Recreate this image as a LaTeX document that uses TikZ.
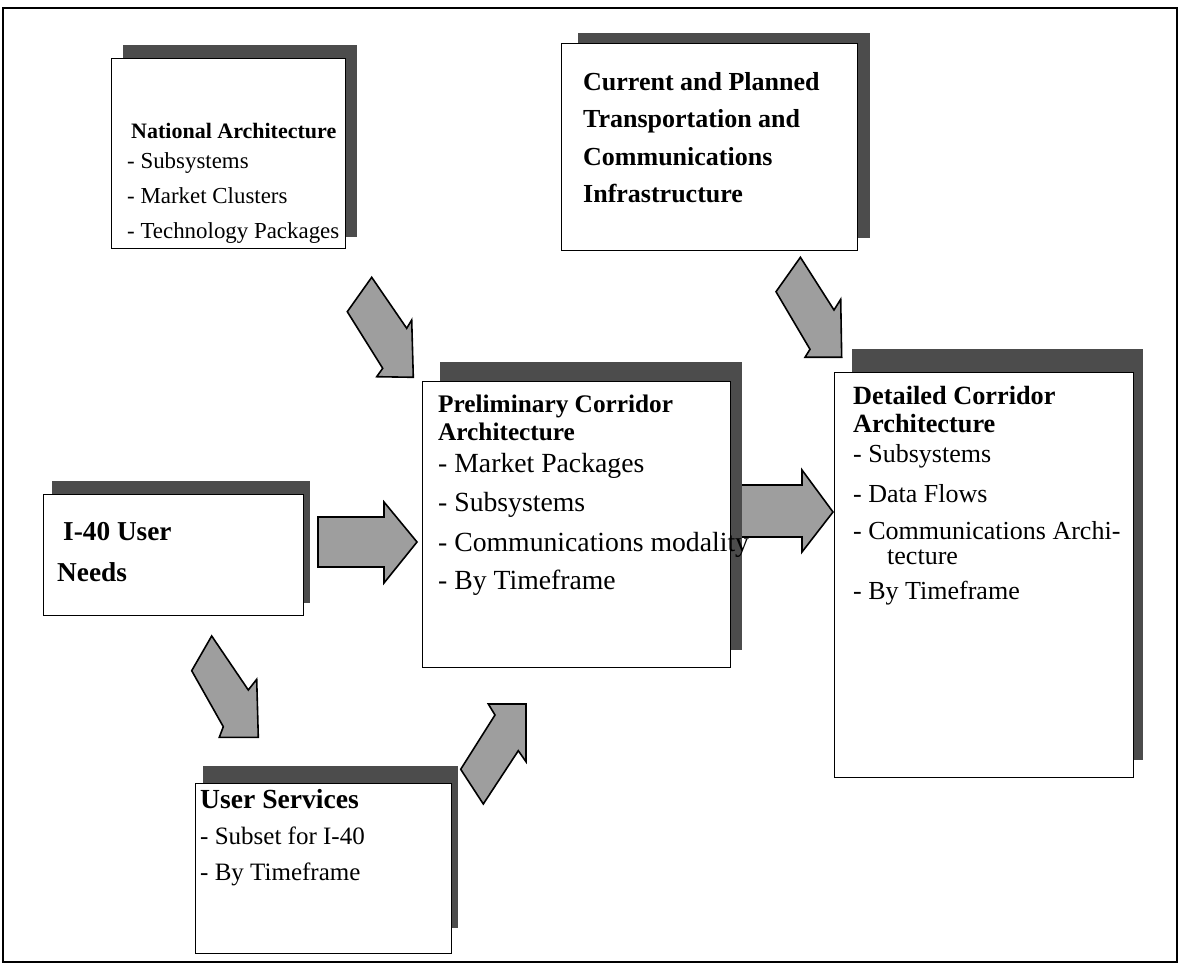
\documentclass[tikz,border=0pt]{standalone}
\usepackage{fontspec}
\setmainfont{Liberation Serif}
\begin{document}
\begin{tikzpicture}[x=1pt,y=-1pt,
  shadebox/.style={fill=black!70},
  card/.style={draw=black, line width=1.2pt, fill=white, inner sep=0pt, anchor=north west},
  blockarrow/.style={draw=black, line width=1.6pt, fill=black!38, line join=miter},
  head/.style={anchor=base west, inner sep=0pt, font=\fontsize{#1}{#1}\selectfont\bfseries},
  item/.style={anchor=base west, inner sep=0pt, font=\fontsize{#1}{#1}\selectfont}]
\useasboundingbox (0,0) rectangle (1179,968);
\draw[line width=1.2pt] (3,8) rectangle (1177,962);

% block arrows
\draw[blockarrow] (371.7,277.3) -- (406.7,328.3) -- (411.7,320) -- (413.3,377.3) -- (376.7,376.7) -- (382.7,368.3) -- (347.3,311.7) -- cycle;
\draw[blockarrow] (800.4,257.3) -- (834,310) -- (840.7,299.3) -- (841.7,357.3) -- (805,357.3) -- (810,349.3) -- (776,291.7) -- cycle;
\draw[blockarrow] (211.7,636) -- (248.3,690) -- (256.7,679.3) -- (258.3,737.3) -- (219.3,737.3) -- (223.3,726.7) -- (191.7,670.7) -- cycle;
\draw[blockarrow] (526,704) -- (526,761.7) -- (518.3,750.7) -- (483.3,804) -- (460.7,769.3) -- (495,715) -- (488.3,704) -- cycle;
\draw[blockarrow] (318,517) -- (384,517) -- (384,502) -- (417,542) -- (384,583) -- (384,567) -- (318,567) -- cycle;
\draw[blockarrow] (735,485) -- (802,485) -- (802,470) -- (833,512) -- (802,552) -- (802,537) -- (735,537) -- cycle;

% shadows
\fill[shadebox] (123,45) rectangle (357,237);
\fill[shadebox] (578,33) rectangle (870,238);
\fill[shadebox] (440,362) rectangle (742,650);
\fill[shadebox] (852,349) rectangle (1143,760);
\fill[shadebox] (52,481) rectangle (310,603);
\fill[shadebox] (203,766) rectangle (458,928);

% boxes
\node[card, minimum width=234pt, minimum height=190pt] (nat) at (111,58) {};
\node[card, minimum width=296pt, minimum height=207pt] (cur) at (561,43) {};
\node[card, minimum width=308pt, minimum height=286pt] (pre) at (422,381) {};
\node[card, minimum width=299pt, minimum height=405pt] (det) at (834,372) {};
\node[card, minimum width=260pt, minimum height=121pt] (usr) at (43,494) {};
\node[card, minimum width=256pt, minimum height=170pt] (svc) at (195,783) {};

% National Architecture
\node[head=22] (nat-t) at (131,139) {National Architecture};
\node[item=22.9] (nat-1) at (127,169) {- Subsystems};
\node[item=22.9] (nat-2) at (127,204) {- Market Clusters};
\node[item=22.9] (nat-3) at (127,239) {- Technology Packages};

% Current and Planned Infrastructure
\node[head=26] (cur-1) at (583,91) {Current and Planned};
\node[head=26] (cur-2) at (583,128) {Transportation and};
\node[head=26] (cur-3) at (583,166) {Communications};
\node[head=26] (cur-4) at (583,203) {Infrastructure};

% Preliminary Corridor Architecture
\node[head=25.3] (pre-t1) at (438,413) {Preliminary Corridor};
\node[head=25.3] (pre-t2) at (438,440) {Architecture};
\node[item=27.7] (pre-1) at (438,472) {- Market Packages};
\node[item=27.7] (pre-2) at (438,511) {- Subsystems};
\node[item=27.7] (pre-3) at (438,551) {- Communications modality};
\node[item=27.7] (pre-4) at (438,589) {- By Timeframe};

% Detailed Corridor Architecture
\node[head=26.3] (det-t1) at (853,405) {Detailed Corridor};
\node[head=26.3] (det-t2) at (853,432) {Architecture};
\node[item=26] (det-1) at (853,462) {- Subsystems};
\node[item=26] (det-2) at (853,502) {- Data Flows};
\node[item=26] (det-3) at (853,539) {- Communications Archi-};
\node[item=26] (det-4) at (887,564) {tecture};
\node[item=26] (det-5) at (853,599) {- By Timeframe};

% I-40 User Needs
\node[head=27.3] (usr-1) at (63,540) {I-40 User};
\node[head=27.3] (usr-2) at (57,581) {Needs};

% User Services
\node[head=27.6] (svc-t) at (200,808) {User Services};
\node[item=25] (svc-1) at (200,844) {- Subset for I-40};
\node[item=25] (svc-2) at (200,880) {- By Timeframe};
\end{tikzpicture}
\end{document}
